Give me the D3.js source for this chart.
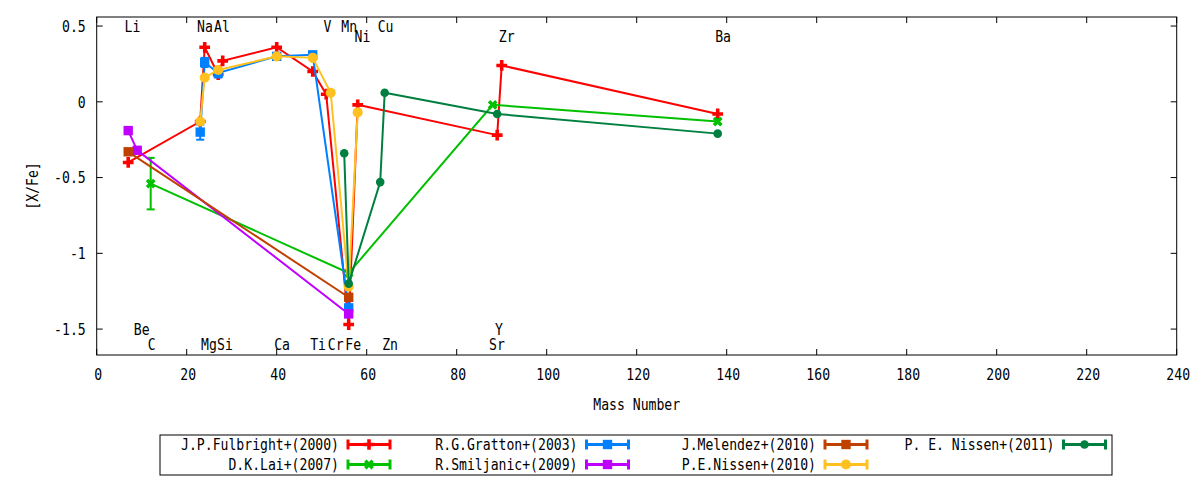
<!DOCTYPE html>
<html>
<head>
<meta charset="utf-8">
<script src="https://cdn.jsdelivr.net/npm/d3@7"></script>
<style>
  body { margin: 0; background: #fff; }
  text { font-family: 'DejaVu Sans Mono', monospace; font-size: 16px; fill: #000; }
</style>
</head>
<body>
<div id="chart"></div>
<script>
// Abundance ratios [X/Fe] against mass number, one array pair per paper
const fulbrightMass = [7, 23, 24, 27, 28, 40, 48, 51, 56, 58, 89, 90, 138];
const fulbrightXFe = [-0.40, -0.13, 0.36, 0.18, 0.27, 0.36, 0.20, 0.05, -1.47, -0.02, -0.22, 0.24, -0.08];

const laiMass = [12, 56, 88, 138];
const laiXFe = [-0.54, -1.13, -0.02, -0.13];
const laiErr = [0.17, 0, 0, 0];

const grattonMass = [23, 24, 27, 40, 48, 56];
const grattonXFe = [-0.20, 0.26, 0.19, 0.30, 0.31, -1.36];
const grattonErr = [0.05, 0.03, 0.03, 0, 0, 0];

const smiljanicMass = [7, 9, 56];
const smiljanicXFe = [-0.19, -0.32, -1.40];

const melendezMass = [7, 56];
const melendezXFe = [-0.33, -1.29];
const melendezErr = [0.02, 0];

const nissen2010Mass = [23, 24, 27, 40, 48, 52, 56, 58];
const nissen2010XFe = [-0.13, 0.16, 0.21, 0.30, 0.29, 0.06, -1.22, -0.07];

const nissen2011Mass = [55, 56, 63, 64, 89, 138];
const nissen2011XFe = [-0.34, -1.20, -0.53, 0.06, -0.08, -0.21];

const seriesNames = [
  'J.P.Fulbright+(2000)', 'D.K.Lai+(2007)', 'R.G.Gratton+(2003)', 'R.Smiljanic+(2009)',
  'J.Melendez+(2010)', 'P.E.Nissen+(2010)', 'P. E. Nissen+(2011)'
];

// element labels: name, position on mass axis, height in [X/Fe]
const elementNames = ['Li', 'Na', 'Al', 'V', 'Mn', 'Cu', 'Ni', 'Zr', 'Ba',
  'Be', 'Y', 'C', 'Mg', 'Si', 'Ca', 'Ti', 'Cr', 'Fe', 'Zn', 'Sr'];
const elementLabelMass = [7.96, 24.07, 27.84, 51.3, 56.1, 64.2, 59.07, 91.1, 139.2,
  10.0, 89.4, 12.2, 24.96, 28.5, 41.2, 49.2, 53.1, 57.0, 65.2, 88.96];
const elementLabelXFe = [0.5, 0.5, 0.5, 0.5, 0.5, 0.5, 0.43, 0.43, 0.43,
  -1.5, -1.5, -1.6, -1.6, -1.6, -1.6, -1.6, -1.6, -1.6, -1.6, -1.6];

const xTicks = [0, 20, 40, 60, 80, 100, 120, 140, 160, 180, 200, 220, 240];
const yTicks = [0.5, 0, -0.5, -1, -1.5];
const yTickLabels = ['0.5', '0', '-0.5', '-1', '-1.5'];

const zip = (m, v, e) => m.map((d, i) => ({ mass: d, xfe: v[i], err: e ? e[i] : 0 }));

const series = [
  { name: seriesNames[0], values: zip(fulbrightMass, fulbrightXFe) },
  { name: seriesNames[1], values: zip(laiMass, laiXFe, laiErr) },
  { name: seriesNames[2], values: zip(grattonMass, grattonXFe, grattonErr) },
  { name: seriesNames[3], values: zip(smiljanicMass, smiljanicXFe) },
  { name: seriesNames[4], values: zip(melendezMass, melendezXFe, melendezErr) },
  { name: seriesNames[5], values: zip(nissen2010Mass, nissen2010XFe) },
  { name: seriesNames[6], values: zip(nissen2011Mass, nissen2011XFe) },
];

// gnuplot-like colours and point types, same order as series
const seriesColors = ['#ff0000', '#00c000', '#0080ff', '#c000ff', '#c04000', '#ffc020', '#008040'];
const seriesSymbols = ['plus', 'x', 'square', 'square', 'square', 'circle', 'circle'];
const seriesSymbolArea = [64, 60, 88, 88, 88, 80, 58];

class AbundancePlot {
  constructor(_config) {
    this.config = {
      parentElement: _config.parentElement,
      containerWidth: 1200,
      containerHeight: 480,
      margin: { top: 17, right: 23.3, bottom: 125, left: 96.7 },
      squeeze: 0.82,
      legendTop: 435,
      legendLeft: 160,
      legendRight: 1112,
      legendTextRight: 339,
      legendColWidth: 238.5,
      legendRowHeight: 20,
    };
    this.initVis();
  }

  initVis() {
    let vis = this;

    vis.width = vis.config.containerWidth - vis.config.margin.left - vis.config.margin.right;
    vis.height = vis.config.containerHeight - vis.config.margin.top - vis.config.margin.bottom;

    vis.svg = d3.select(vis.config.parentElement).append('svg')
      .attr('width', vis.config.containerWidth)
      .attr('height', vis.config.containerHeight);

    vis.chart = vis.svg.append('g')
      .attr('transform', `translate(${vis.config.margin.left},${vis.config.margin.top})`);

    vis.xScale = d3.scaleLinear().domain([0, 240]).range([0, vis.width]);
    vis.yScale = d3.scaleLinear().domain([-1.671, 0.5597]).range([vis.height, 0]);

    vis.renderVis();
  }

  // narrow, tall text like the gnuplot font
  addText(parent, x, y, str, anchor) {
    return parent.append('text')
      .attr('transform', `translate(${x},${y}) scale(${this.config.squeeze},1)`)
      .attr('text-anchor', anchor || 'middle')
      .attr('dy', '.36em')
      .text(str);
  }

  symbolPath(i) {
    const type = seriesSymbols[i];
    const area = seriesSymbolArea[i];
    if (type === 'plus' || type === 'x') return d3.symbol(d3.symbolCross, area)();
    if (type === 'square') return d3.symbol(d3.symbolSquare, area)();
    return d3.symbol(d3.symbolCircle, area)();
  }

  drawMarker(parent, x, y, i) {
    parent.append('path')
      .attr('d', this.symbolPath(i))
      .attr('transform', `translate(${x},${y})` + (seriesSymbols[i] === 'x' ? ' rotate(45)' : ''))
      .attr('fill', seriesColors[i]);
  }

  renderVis() {
    let vis = this;
    const w = vis.width, h = vis.height;

    // frame and mirrored ticks
    vis.chart.append('rect')
      .attr('width', w).attr('height', h)
      .attr('fill', 'none').attr('stroke', '#000').attr('stroke-width', 1);

    const axisG = vis.chart.append('g').attr('stroke', '#000').attr('stroke-width', 1);
    xTicks.forEach((t) => {
      const x = vis.xScale(t);
      axisG.append('line').attr('x1', x).attr('x2', x).attr('y1', h).attr('y2', h - 6);
      axisG.append('line').attr('x1', x).attr('x2', x).attr('y1', 0).attr('y2', 6);
      vis.addText(vis.chart, x + 1.5, h + 19, String(t));
    });
    yTicks.forEach((t, i) => {
      const y = vis.yScale(t);
      axisG.append('line').attr('x1', 0).attr('x2', 6).attr('y1', y).attr('y2', y);
      axisG.append('line').attr('x1', w).attr('x2', w - 6).attr('y1', y).attr('y2', y);
      vis.addText(vis.chart, -11, y, yTickLabels[i], 'end');
    });

    vis.addText(vis.chart, w / 2, h + 49, 'Mass Number');
    vis.chart.append('text')
      .attr('transform', `translate(-64,${h / 2}) rotate(-90) scale(${vis.config.squeeze},1)`)
      .attr('text-anchor', 'middle')
      .attr('dy', '.36em')
      .text('[X/Fe]');

    // element names
    elementNames.forEach((name, i) => {
      vis.addText(vis.chart, vis.xScale(elementLabelMass[i]), vis.yScale(elementLabelXFe[i]), name);
    });

    const line = d3.line()
      .x((d) => vis.xScale(d.mass))
      .y((d) => vis.yScale(d.xfe));

    series.forEach((s, i) => {
      const g = vis.chart.append('g').attr('class', 'series');
      g.append('path')
        .datum(s.values)
        .attr('d', line)
        .attr('fill', 'none')
        .attr('stroke', seriesColors[i])
        .attr('stroke-width', 2);

      // error bars
      s.values.filter((d) => d.err > 0).forEach((d) => {
        const x = vis.xScale(d.mass);
        const y0 = vis.yScale(d.xfe - d.err), y1 = vis.yScale(d.xfe + d.err);
        const eg = g.append('g').attr('stroke', seriesColors[i]).attr('stroke-width', 2);
        eg.append('line').attr('x1', x).attr('x2', x).attr('y1', y0).attr('y2', y1);
        eg.append('line').attr('x1', x - 4).attr('x2', x + 4).attr('y1', y0).attr('y2', y0);
        eg.append('line').attr('x1', x - 4).attr('x2', x + 4).attr('y1', y1).attr('y2', y1);
      });

      s.values.forEach((d) => vis.drawMarker(g, vis.xScale(d.mass), vis.yScale(d.xfe), i));
    });

    // legend, filled column by column with two rows
    const cfg = vis.config;
    const legend = vis.svg.append('g').attr('class', 'legend');
    legend.append('rect')
      .attr('x', cfg.legendLeft).attr('y', cfg.legendTop)
      .attr('width', cfg.legendRight - cfg.legendLeft)
      .attr('height', cfg.legendRowHeight * 2)
      .attr('fill', 'none').attr('stroke', '#000');

    series.forEach((s, i) => {
      const col = Math.floor(i / 2), row = i % 2;
      const tx = cfg.legendTextRight + col * cfg.legendColWidth;
      const ty = cfg.legendTop + 9.5 + row * cfg.legendRowHeight;
      vis.addText(legend, tx, ty, s.name, 'end');
      const x0 = tx + 9, x1 = tx + 51;
      const lg = legend.append('g').attr('stroke', seriesColors[i]).attr('stroke-width', 3);
      lg.append('line').attr('x1', x0).attr('x2', x1).attr('y1', ty).attr('y2', ty);
      lg.append('line').attr('x1', x0).attr('x2', x0).attr('y1', ty - 5).attr('y2', ty + 5);
      lg.append('line').attr('x1', x1).attr('x2', x1).attr('y1', ty - 5).attr('y2', ty + 5);
      vis.drawMarker(legend, (x0 + x1) / 2, ty, i);
    });
  }
}

new AbundancePlot({ parentElement: '#chart' });
</script>
</body>
</html>
